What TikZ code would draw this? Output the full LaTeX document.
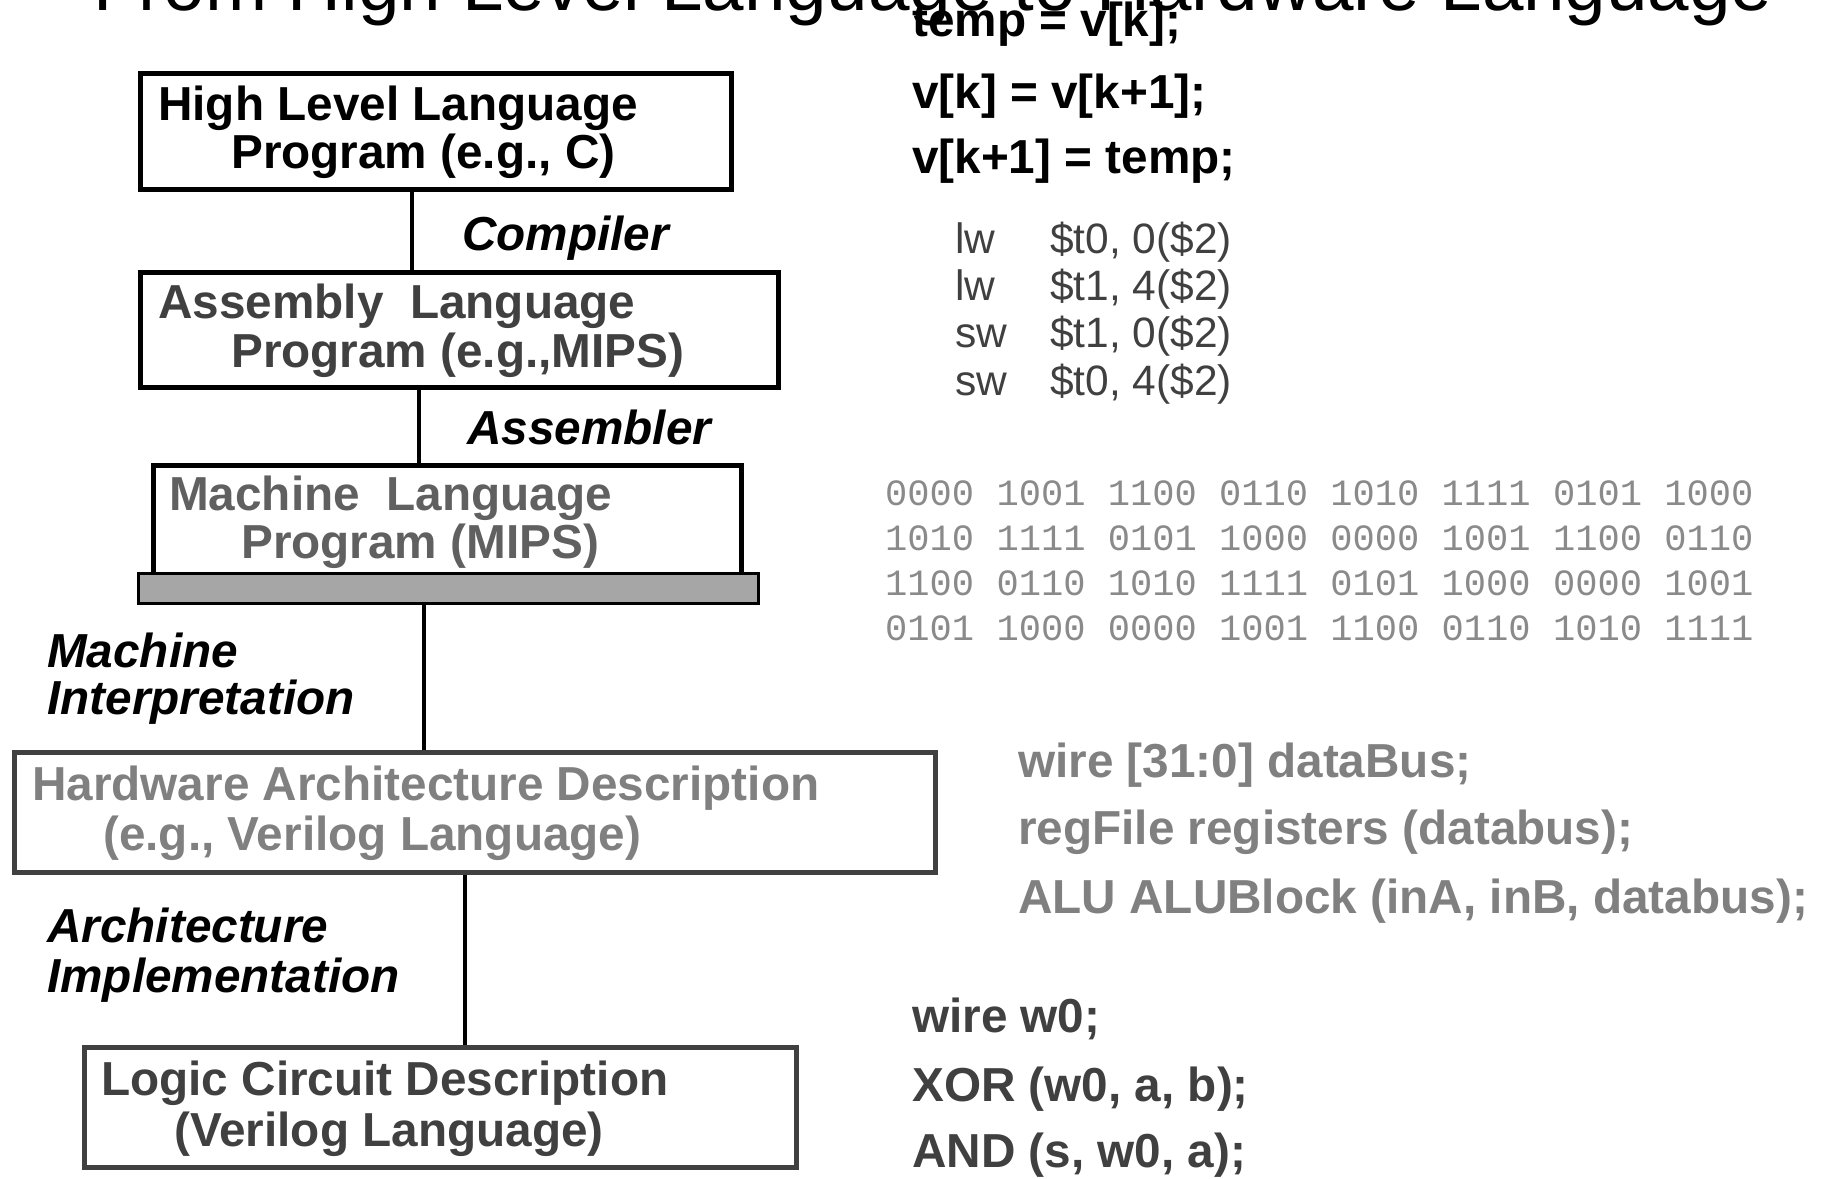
\documentclass[tikz,border=0pt]{standalone}
\usepackage{fontspec}
\setmainfont{Liberation Sans}
\newfontfamily\binfont{Liberation Mono}
\definecolor{txtdark}{HTML}{404040}
\definecolor{txtmid}{HTML}{606060}
\definecolor{txtlight}{HTML}{808080}
\definecolor{bingray}{HTML}{8A8A8A}
\definecolor{barfill}{HTML}{A6A6A6}
\definecolor{boxedge}{HTML}{404040}
\begin{document}
\begin{tikzpicture}[x=1pt,y=-1pt,
  box/.style={draw=black, line width=4.5pt, inner sep=0pt, anchor=north west},
  tbox/.style={draw=boxedge, line width=5pt, inner sep=0pt, anchor=north west},
  lbl/.style={anchor=base west, inner sep=0pt, font=\fontsize{47.7}{57}\selectfont\bfseries},
  ital/.style={anchor=base west, inner sep=0pt, font=\fontsize{47.7}{57}\selectfont\bfseries\itshape},
  asmtxt/.style={anchor=base west, inner sep=0pt, text=txtdark, font=\fontsize{42.5}{50}\selectfont},
  bintxt/.style={anchor=base west, inner sep=0pt, text=bingray, font=\binfont\fontsize{37.1}{45}\selectfont},
  wire/.style={line width=3.5pt}
]
\useasboundingbox (0,0) rectangle (1822,1178);

% boxes
\node[box, minimum width=591, minimum height=116] (b1) at (138,71) {};
\node[box, minimum width=638, minimum height=115] (b2) at (138,270) {};
\node[box, minimum width=588, minimum height=109] (b3) at (151,463) {};
\node[draw=black, line width=2.5pt, fill=barfill, inner sep=0pt, anchor=north west,
      minimum width=620, minimum height=30] (bar) at (137,572) {};
\node[tbox, minimum width=921, minimum height=120] (b4) at (12,750) {};
\node[tbox, minimum width=712, minimum height=120] (b5) at (82,1045) {};

% connectors
\coordinate (k1) at (412,0);
\coordinate (k2) at (419,0);
\coordinate (k3) at (424,0);
\coordinate (k4) at (465,0);
\draw[wire] (k1 |- b1.south) -- (k1 |- b2.north);
\draw[wire] (k2 |- b2.south) -- (k2 |- b3.north);
\draw[wire] (k3 |- bar.south) -- (k3 |- b4.north);
\draw[wire] (k4 |- b4.south) -- (k4 |- b5.north);

% box texts
\node[lbl] (t1a) at (158,120) {High Level Language};
\node[lbl] (t1b) at (231,168) {Program (e.g., C)};
\node[lbl, text=txtdark] (t2a) at (158,318) {Assembly\hspace{0.556em}Language};
\node[lbl, text=txtdark] (t2b) at (231,367) {Program (e.g.,MIPS)};
\node[lbl, text=txtmid] (t3a) at (169,510) {Machine\hspace{0.556em}Language};
\node[lbl, text=txtmid] (t3b) at (241,558) {Program (MIPS)};
\node[lbl, text=txtlight] (t4a) at (32,800) {Hardware Architecture Description};
\node[lbl, text=txtlight] (t4b) at (103,850) {(e.g., Verilog Language)};
\node[lbl, text=txtdark] (t5a) at (101,1095) {Logic Circuit Description};
\node[lbl, text=txtdark] (t5b) at (174,1146) {(Verilog Language)};

% step labels
\node[ital] (compiler) at (462,250) {Compiler};
\node[ital] (assembler) at (467,444) {Assembler};
\node[ital] (mi1) at (47,667) {Machine};
\node[ital] (mi2) at (47,714) {Interpretation};
\node[ital] (ai1) at (47,942) {Architecture};
\node[ital] (ai2) at (47,992) {Implementation};

% C code
\node[lbl] (c1) at (912,36) {temp = v[k];};
\node[lbl] (c2) at (912,108) {v[k] = v[k+1];};
\node[lbl] (c3) at (912,173) {v[k+1] = temp;};

% MIPS assembly
\node[asmtxt] (a1o) at (955,253) {lw};
\node[asmtxt] (a1r) at (1050,253) {\$t0, 0(\$2)};
\node[asmtxt] (a2o) at (955,300) {lw};
\node[asmtxt] (a2r) at (1050,300) {\$t1, 4(\$2)};
\node[asmtxt] (a3o) at (955,347) {sw};
\node[asmtxt] (a3r) at (1050,347) {\$t1, 0(\$2)};
\node[asmtxt] (a4o) at (955,395) {sw};
\node[asmtxt] (a4r) at (1050,395) {\$t0, 4(\$2)};

% machine code
\node[bintxt] (m1) at (885,505) {0000 1001 1100 0110 1010 1111 0101 1000};
\node[bintxt] (m2) at (885,550) {1010 1111 0101 1000 0000 1001 1100 0110};
\node[bintxt] (m3) at (885,595) {1100 0110 1010 1111 0101 1000 0000 1001};
\node[bintxt] (m4) at (885,640) {0101 1000 0000 1001 1100 0110 1010 1111};

% architecture verilog
\node[lbl, text=txtlight] (v1) at (1018,777) {wire [31:0] dataBus;};
\node[lbl, text=txtlight] (v2) at (1018,844) {regFile registers (databus);};
\node[lbl, text=txtlight] (v3) at (1018,913) {ALU ALUBlock (inA, inB, databus);};

% gate verilog
\node[lbl, text=txtdark] (g1) at (912,1032) {wire w0;};
\node[lbl, text=txtdark] (g2) at (912,1101) {XOR (w0, a, b);};
\node[lbl, text=txtdark] (g3) at (912,1167) {AND (s, w0, a);};

% title (cut off at the top)
\node[anchor=base west, inner sep=0pt, font=\fontsize{74.6}{80}\selectfont] (title) at (93,10)
  {From High Level Language to Hardware Language};
\end{tikzpicture}
\end{document}
